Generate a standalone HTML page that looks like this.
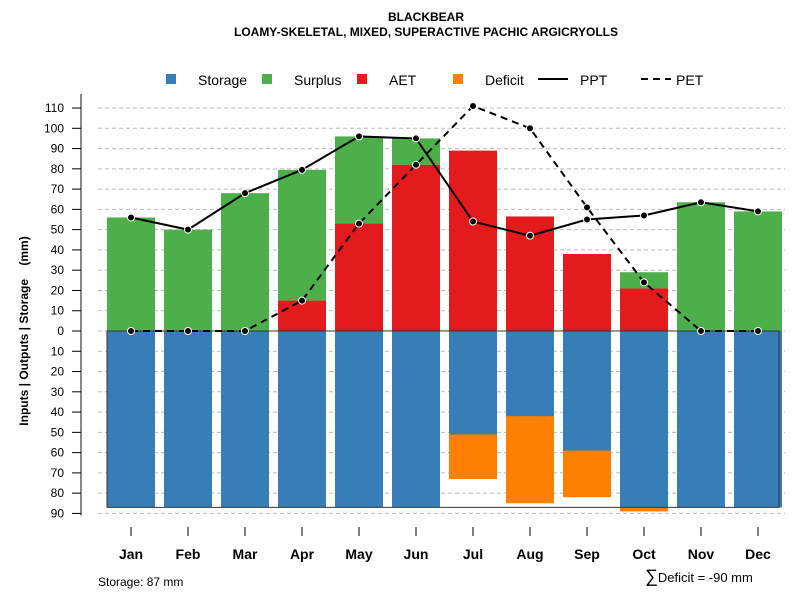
<!DOCTYPE html>
<html><head><meta charset="utf-8"><style>
body{margin:0;background:#fff;font-family:"Liberation Sans",sans-serif}
svg text{font-family:"Liberation Sans",sans-serif}
</style></head><body>
<svg id="c" width="800" height="600" xmlns="http://www.w3.org/2000/svg">
<text x="426" y="21" text-anchor="middle" font-size="12" font-weight="bold">BLACKBEAR</text>
<text x="426" y="36" text-anchor="middle" font-size="12" font-weight="bold">LOAMY-SKELETAL, MIXED, SUPERACTIVE PACHIC ARGICRYOLLS</text>
<g id="legend" font-size="14">
<rect x="166" y="74" width="10" height="10" fill="#377eb8"/>
<text x="198" y="85">Storage</text>
<rect x="262" y="74" width="10" height="10" fill="#4daf4a"/>
<text x="294" y="85">Surplus</text>
<rect x="357" y="74" width="10" height="10" fill="#e41a1c"/>
<text x="389" y="85">AET</text>
<rect x="453" y="74" width="10" height="10" fill="#ff7f00"/>
<text x="485" y="85">Deficit</text>
<line x1="538" y1="79" x2="568" y2="79" stroke="#000" stroke-width="2"/>
<text x="580" y="85">PPT</text>
<line x1="641" y1="79" x2="671" y2="79" stroke="#000" stroke-width="2" stroke-dasharray="7,5"/>
<text x="676" y="85">PET</text>
</g>
<text transform="translate(28,331) rotate(-90)" text-anchor="middle" font-size="12" font-weight="bold">Inputs | Outputs | Storage&#160;&#160;&#160;&#160;(mm)</text>
<text x="98" y="586" font-size="12">Storage: 87 mm</text>
<text x="645" y="582" font-size="13"><tspan font-size="18">∑</tspan>Deficit = -90 mm</text>
<g id="plot"></g>
</svg>
<script>
const months=["Jan","Feb","Mar","Apr","May","Jun","Jul","Aug","Sep","Oct","Nov","Dec"];
const storage=[87,87,87,87,87,87,51,42,59,87,87,87];
const deficitTotal=[0,0,0,0,0,0,73,85,82,89,0,0];
const aet=[0,0,0,15,53,82,89,56.5,38,21,0,0];
const totalIn=[56,50,68,79.5,96,95,89,56.5,38,29,63.5,59];
const ppt=[56,50,68,79.5,96,95,54,47,55,57,63.5,59];
const pet=[0,0,0,15,53,82,111,100,61,24,0,0];
const yTicks=[110,100,90,80,70,60,50,40,30,20,10,0,-10,-20,-30,-40,-50,-60,-70,-80,-90];
const maxStorage=87;

const NS="http://www.w3.org/2000/svg";
const g=document.getElementById('plot');
const y=v=>331-v*2.027;
const x=i=>131+i*57;
const bw=48;
function mk(t,a){const e=document.createElementNS(NS,t);for(const k in a)e.setAttribute(k,a[k]);g.appendChild(e);return e;}
let ax=mk('line',{x1:81,y1:y(117),x2:81,y2:y(-91),stroke:'#888','stroke-width':2});


yTicks.forEach(v=>{
 const gl=mk('line',{x1:98,x2:785,y1:y(v),y2:y(v),stroke:'#bbb','stroke-dasharray':'4,3'});
 
 
 const tk=mk('line',{x1:72,x2:81,y1:y(v),y2:y(v),stroke:'#000'});
 
 
 const t=mk('text',{x:64,y:y(v)+4,'text-anchor':'end','font-size':12});
 t.textContent=Math.abs(v);
 
 
});
months.forEach((m,i)=>{
 const cx=x(i);
 if(deficitTotal[i]>0){const r=mk('rect',{x:cx-bw/2,y:y(0),width:bw,height:y(-deficitTotal[i])-y(0),fill:'#ff7f00'});
  
  }
 const s=mk('rect',{x:cx-bw/2,y:y(0),width:bw,height:y(-storage[i])-y(0),fill:'#377eb8'});
 
 
 if(totalIn[i]>aet[i]){const r=mk('rect',{x:cx-bw/2,y:y(totalIn[i]),width:bw,height:y(aet[i])-y(totalIn[i]),fill:'#4daf4a'});
  
  }
 if(aet[i]>0){const r=mk('rect',{x:cx-bw/2,y:y(aet[i]),width:bw,height:y(0)-y(aet[i]),fill:'#e41a1c'});
  
  }
 const tk=mk('line',{x1:cx,x2:cx,y1:527,y2:536,stroke:'#000'});
 
 
 const t=mk('text',{x:cx,y:559,'text-anchor':'middle','font-size':14,'font-weight':'bold'});
 t.textContent=m;
 
 
});
const box=mk('rect',{x:107,y:y(0),width:672,height:y(-maxStorage)-y(0),fill:'none',stroke:'#333','stroke-width':1});


function series(arr,dash,name){
 const p=mk('polyline',{points:arr.map((v,i)=>x(i)+','+y(v)).join(' '),fill:'none',stroke:'#000','stroke-width':2,'stroke-dasharray':dash});
 
 
 arr.forEach((v,i)=>{const c=mk('circle',{cx:x(i),cy:y(v),r:3.5,fill:'#000',stroke:'#fff','stroke-width':1});
  
  });
}
series(pet,'7,5','pet');
series(ppt,'none','ppt');
</script>
</body></html>
